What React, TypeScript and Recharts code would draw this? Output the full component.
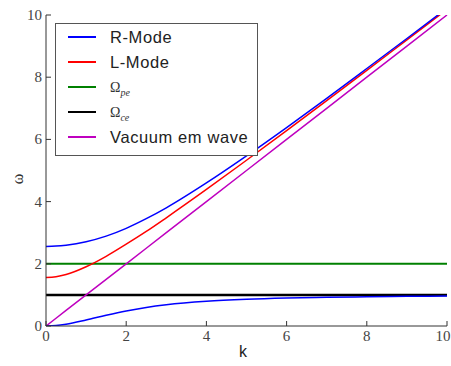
import React from "react";
import { LineChart, Line, XAxis, YAxis, Legend } from "recharts";

const kValues = [0, 0.25, 0.5, 1, 1.5, 2, 2.5, 3, 4, 5, 6, 7, 8, 9, 10];
const rModeUpper = [2.56, 2.57, 2.6, 2.71, 2.89, 3.14, 3.45, 3.8, 4.6, 5.47, 6.38, 7.32, 8.28, 9.245, 10.22];
const rModeLower = [0, 0.016, 0.058, 0.194, 0.347, 0.485, 0.596, 0.681, 0.793, 0.858, 0.898, 0.923, 0.941, 0.953, 0.961];
const lMode = [1.56, 1.585, 1.655, 1.905, 2.24, 2.63, 3.04, 3.48, 4.39, 5.33, 6.28, 7.245, 8.22, 9.2, 10.18];
const vacuum = [0, 0.25, 0.5, 1, 1.5, 2, 2.5, 3, 4, 5, 6, 7, 8, 9, 10];
const omegaPe = 2;
const omegaCe = 1;
const xTicks = [0, 2, 4, 6, 8, 10];
const yTicks = [0, 2, 4, 6, 8, 10];

const data = kValues.map((k, i) => ({
  k,
  rUp: rModeUpper[i],
  rLow: rModeLower[i],
  l: lMode[i],
  pe: omegaPe,
  ce: omegaCe,
  vac: vacuum[i],
}));

const legendItems = [
  { label: "R-Mode", color: "#0000ff", math: false },
  { label: "L-Mode", color: "#ff0000", math: false },
  { label: "pe", color: "#008000", math: true },
  { label: "ce", color: "#000000", math: true },
  { label: "Vacuum em wave", color: "#bf00bf", math: false },
];

const SERIF = "'Liberation Serif', 'DejaVu Serif', serif";
const SANS = "'Liberation Sans', Arial, sans-serif";

const LegendBox = () => (
  <svg width={203} height={133}>
    <rect x={0.5} y={0.5} width={202} height={132} fill="#fff" stroke="#555" strokeWidth={1} />
    {legendItems.map((it, i) => {
      const y = 14 + i * 25;
      return (
        <g key={it.label}>
          <line x1={13} x2={41} y1={y} y2={y} stroke={it.color} strokeWidth={2} />
          {it.math ? (
            <text x={55} y={y + 5} style={{ fontFamily: SERIF, fontSize: 14 }} fill="#333">
              Ω<tspan style={{ fontSize: 10, fontStyle: "italic" }} dy={4}>{it.label}</tspan>
            </text>
          ) : (
            <text x={55} y={y + 6} style={{ fontFamily: SANS, fontSize: 16.5, letterSpacing: 0.6 }} fill="#222">
              {it.label}
            </text>
          )}
        </g>
      );
    })}
  </svg>
);

const XTick = (props: any) => {
  const { x, y, payload } = props;
  return (
    <text x={x} y={y + 20} textAnchor="middle" style={{ fontFamily: SERIF, fontSize: 15 }} fill="#444">
      {payload.value}
    </text>
  );
};

const YTick = (props: any) => {
  const { x, y, payload } = props;
  return (
    <text x={x - 9} y={y + 5} textAnchor="end" style={{ fontFamily: SERIF, fontSize: 15 }} fill="#444">
      {payload.value}
    </text>
  );
};

export default function App() {
  return (
    <div style={{ position: "absolute", left: 0, top: 0, width: 451, height: 366, background: "#fff" }}>
      <LineChart width={451} height={366} data={data} margin={{ top: 15, right: 4, bottom: 0, left: 0 }}>
        <XAxis
          dataKey="k"
          type="number"
          domain={[0, 10]}
          ticks={xTicks}
          height={40}
          tickSize={-5}
          tickMargin={0}
          tick={<XTick />}
          stroke="#333"
        />
        <XAxis
          xAxisId="top"
          orientation="top"
          dataKey="k"
          type="number"
          domain={[0, 10]}
          ticks={xTicks}
          height={0}
          tickSize={-5}
          tick={false}
          stroke="#333"
        />
        <YAxis
          type="number"
          domain={[0, 10]}
          ticks={yTicks}
          allowDataOverflow
          width={46}
          tickSize={-5}
          tickMargin={0}
          tick={<YTick />}
          stroke="#333"
        />
        <YAxis
          yAxisId="right"
          orientation="right"
          type="number"
          domain={[0, 10]}
          ticks={yTicks}
          width={0}
          tickSize={-5}
          tick={false}
          stroke="#333"
        />
        <Legend content={<LegendBox />} wrapperStyle={{ left: 55, top: 23, width: 203, height: 133 }} layout="vertical" align="center" verticalAlign="middle" />
        <Line dataKey="pe" stroke="#008000" strokeWidth={2} dot={false} isAnimationActive={false} />
        <Line dataKey="ce" stroke="#000000" strokeWidth={2.5} dot={false} isAnimationActive={false} />
        <Line dataKey="vac" stroke="#bf00bf" strokeWidth={1.5} dot={false} isAnimationActive={false} />
        <Line type="monotone" dataKey="l" stroke="#ff0000" strokeWidth={1.5} dot={false} isAnimationActive={false} />
        <Line type="monotone" dataKey="rUp" stroke="#0000ff" strokeWidth={1.5} dot={false} isAnimationActive={false} />
        <Line type="monotone" dataKey="rLow" stroke="#0000ff" strokeWidth={1.5} dot={false} isAnimationActive={false} />
      </LineChart>
      <div style={{ position: "absolute", left: 239, top: 343, fontFamily: SANS, fontSize: 16, color: "#222" }}>k</div>
      <div style={{ position: "absolute", left: 13, top: 170, fontFamily: SERIF, fontSize: 16, color: "#333", transform: "rotate(-90deg)" }}>ω</div>
    </div>
  );
}
